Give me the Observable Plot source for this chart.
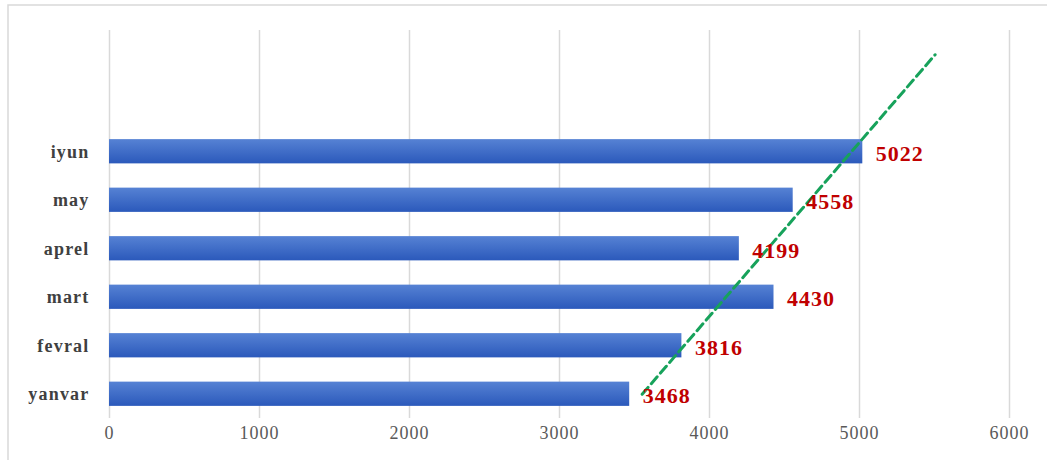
<!DOCTYPE html>
<html>
<head>
<meta charset="utf-8">
<script src="https://cdn.jsdelivr.net/npm/d3@7"></script>
<script src="https://cdn.jsdelivr.net/npm/@observablehq/plot@0.6"></script>
<style>
  html, body { margin: 0; padding: 0; background: #ffffff; }
  #chart svg { display: block; }
</style>
</head>
<body>
<div id="chart"></div>
<script>
// Monthly totals, January to June
const months = ["yanvar", "fevral", "mart", "aprel", "may", "iyun"];
const order = [1, 2, 3, 4, 5, 6];
const values = [3468, 3816, 4430, 4199, 4558, 5022];
const xTicks = [0, 1000, 2000, 3000, 4000, 5000, 6000];

// Linear trend line, carried two periods past June
const trendPeriod = [1, 8];
const trendValue = [3551, 5504];

const rows = months.map((m, i) => ({month: m, order: order[i], value: values[i]}));
const trend = trendPeriod.map((p, i) => ({period: p, value: trendValue[i]}));

const serif = "'Liberation Serif', 'Times New Roman', serif";
const valueColor = "#c00000";
const monthColor = "#404040";
const tickColor = "#595959";

const chart = Plot.plot({
  width: 1047,
  height: 460,
  marginLeft: 109,
  marginRight: 38,
  marginTop: 30,
  marginBottom: 42,
  style: {background: "#ffffff", fontFamily: serif},
  x: {domain: [0, 6000], axis: null},
  y: {domain: [0.5, 8.5], axis: null},
  marks: [
    Plot.ruleX(xTicks, {stroke: "#d9d9d9", strokeWidth: 1.5}),
    Plot.rect(rows, {
      x1: 0,
      x2: "value",
      y1: d => d.order - 0.25,
      y2: d => d.order + 0.25,
      fill: "url(#barGrad)"
    }),
    Plot.line(trend, {
      x: "value",
      y: "period",
      stroke: "#17a25b",
      strokeWidth: 3,
      strokeDasharray: "9,5"
    }),
    Plot.text(rows, {
      x: "value",
      y: "order",
      text: d => String(d.value),
      dx: 13,
      dy: 2,
      textAnchor: "start",
      fill: valueColor,
      fontSize: 22,
      fontWeight: "bold",
      fontFamily: serif
    }),
    Plot.text(rows, {
      x: 0,
      y: "order",
      text: "month",
      dx: -20,
      textAnchor: "end",
      fill: monthColor,
      fontSize: 18,
      fontWeight: "bold",
      fontFamily: serif
    }),
    Plot.text(xTicks, {
      x: d => d,
      text: d => String(d),
      frameAnchor: "bottom",
      dy: 20,
      fill: tickColor,
      fontSize: 18,
      fontFamily: serif
    })
  ]
});

const root = d3.select(chart);

// Slightly wider letter spacing for the three groups of labels
root.selectAll(`g[fill="${valueColor}"]`).attr("letter-spacing", "1px");
root.selectAll(`g[fill="${monthColor}"]`).attr("letter-spacing", "1.2px");
root.selectAll(`g[fill="${tickColor}"]`).attr("letter-spacing", "1px");

// Vertical gradient for the bars
const defs = root.insert("defs", ":first-child");
const grad = defs.append("linearGradient")
  .attr("id", "barGrad")
  .attr("x1", 0).attr("y1", 0).attr("x2", 0).attr("y2", 1);
grad.append("stop").attr("offset", "0%").attr("stop-color", "#5682d4");
grad.append("stop").attr("offset", "100%").attr("stop-color", "#2b59bb");

// Light outer border of the chart area
root.insert("rect", "defs + *")
  .attr("x", 8).attr("y", 5)
  .attr("width", 1100).attr("height", 500)
  .attr("fill", "none")
  .attr("stroke", "#d9d9d9")
  .attr("stroke-width", 1.5);

document.getElementById("chart").appendChild(chart);
</script>
</body>
</html>
